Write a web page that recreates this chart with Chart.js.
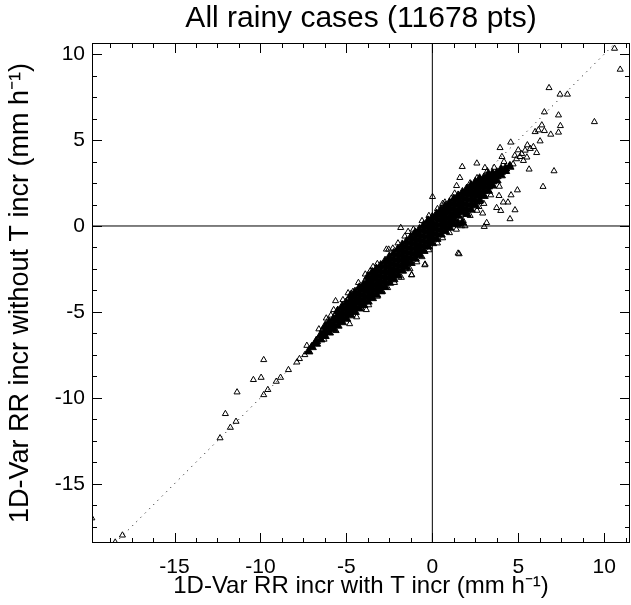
<!DOCTYPE html>
<html>
<head>
<meta charset="utf-8">
<script src="https://cdn.jsdelivr.net/npm/chart.js@4/dist/chart.umd.min.js"></script>
<style>
  html, body { margin: 0; padding: 0; background: #fff; }
  #wrap { width: 631px; height: 605px; }
</style>
</head>
<body>
<div id="wrap"><canvas id="chart" width="631" height="605"></canvas></div>
<script>
// axis limits and tick labels
const xRange = [-19.8, 11.5];
const yRange = [-18.45, 10.65];
const xTicks = [-15, -10, -5, 0, 5, 10];
const yTicks = [-15, -10, -5, 0, 5, 10];

const coreCols = [
  [-7.2, [-7.3]],
  [-7.0, [-7.05]],
  [-6.75, [-6.85, -6.7]],
  [-6.5, [-6.6, -6.35]],
  [-6.25, [-6.4, -6.1, -5.85]],
  [-6.0, [-6.2, -5.9, -5.6]],
  [-5.75, [-6.0, -5.7, -5.4]],
  [-5.5, [-5.8, -5.5, -5.2, -4.95]],
  [-5.25, [-5.6, -5.3, -5.0, -4.7]],
  [-5.0, [-5.4, -5.1, -4.8, -4.5]],
  [-4.75, [-5.2, -4.9, -4.6, -4.3, -4.05]],
  [-4.5, [-5.0, -4.7, -4.4, -4.1, -3.85]],
  [-4.25, [-4.8, -4.5, -4.2, -3.9, -3.6]],
  [-4.0, [-4.6, -4.3, -4.0, -3.7, -3.4]],
  [-3.75, [-4.4, -4.1, -3.8, -3.5, -3.2, -2.95]],
  [-3.5, [-4.2, -3.9, -3.6, -3.3, -3.0, -2.7]],
  [-3.25, [-4.0, -3.7, -3.4, -3.1, -2.8, -2.5]],
  [-3.0, [-3.8, -3.5, -3.2, -2.9, -2.6, -2.3]],
  [-2.75, [-3.55, -3.25, -2.95, -2.65, -2.35, -2.05]],
  [-2.5, [-3.3, -3.0, -2.7, -2.4, -2.1, -1.8]],
  [-2.25, [-3.1, -2.8, -2.5, -2.2, -1.9, -1.6]],
  [-2.0, [-2.85, -2.55, -2.25, -1.95, -1.65, -1.35]],
  [-1.75, [-2.6, -2.3, -2.0, -1.7, -1.4, -1.1]],
  [-1.5, [-2.4, -2.1, -1.8, -1.5, -1.2, -0.9]],
  [-1.25, [-2.15, -1.85, -1.55, -1.25, -0.95, -0.65]],
  [-1.0, [-1.9, -1.6, -1.3, -1.0, -0.7, -0.4]],
  [-0.75, [-1.7, -1.4, -1.1, -0.8, -0.5, -0.2]],
  [-0.5, [-1.45, -1.15, -0.85, -0.55, -0.25, 0.05]],
  [-0.25, [-1.2, -0.9, -0.6, -0.3, 0.0, 0.3]],
  [0.0, [-1.0, -0.7, -0.4, -0.1, 0.2, 0.5]],
  [0.25, [-0.75, -0.45, -0.15, 0.15, 0.45, 0.7]],
  [0.5, [-0.5, -0.2, 0.1, 0.4, 0.7, 0.95]],
  [0.75, [-0.3, 0.0, 0.3, 0.6, 0.9, 1.15]],
  [1.0, [-0.1, 0.2, 0.5, 0.8, 1.1, 1.35]],
  [1.25, [0.1, 0.4, 0.7, 1.0, 1.3, 1.55]],
  [1.5, [0.15, 0.6, 0.9, 1.2, 1.5, 1.75]],
  [1.75, [0.2, 0.8, 1.1, 1.4, 1.7, 1.95]],
  [2.0, [0.7, 1.0, 1.3, 1.6, 1.9, 2.15]],
  [2.25, [0.95, 1.25, 1.55, 1.85, 2.1, 2.35]],
  [2.5, [1.2, 1.5, 1.8, 2.05, 2.3, 2.55]],
  [2.75, [1.5, 1.8, 2.05, 2.3, 2.55, 2.75]],
  [3.0, [1.75, 2.05, 2.3, 2.55, 2.8]],
  [3.25, [2.05, 2.3, 2.55, 2.8, 3.0]],
  [3.5, [2.35, 2.6, 2.85, 3.05]],
  [3.75, [2.65, 2.9, 3.1]],
  [4.0, [2.95, 3.15, 3.3]],
  [4.25, [3.2, 3.35]],
  [4.5, [3.45]]
];

// single scattered triangles outside the core
const sparsePts = [
  [-19.81, -17.0], [-18.45, -18.41], [-18.03, -18.0], [-12.35, -12.34], [-12.04, -10.93],
  [-11.75, -11.73], [-11.42, -11.38], [-11.36, -9.67], [-10.41, -8.95], [-9.96, -8.82],
  [-9.81, -7.79], [-9.81, -9.83], [-9.57, -9.53], [-9.08, -9.05], [-8.83, -8.82],
  [-8.37, -8.37], [-7.88, -7.93], [-7.73, -7.73], [-7.42, -7.5], [-7.3, -6.96],
  [-7.04, -7.02], [-6.85, -6.82], [-6.4, -6.05], [-6.17, -5.37], [-6.08, -5.51],
  [-5.63, -4.36], [-5.74, -4.88], [-5.53, -4.92], [-5.2, -4.3], [-5.04, -4.4],
  [-4.62, -3.82], [-4.81, -5.7], [-4.13, -4.79], [-3.84, -4.88], [-3.84, -4.4],
  [-3.9, -2.81], [-3.45, -2.37], [-2.9, -3.82], [-2.67, -1.36], [-2.54, -1.36],
  [-1.95, -2.98], [-1.2, -2.85], [-0.42, -2.23], [-0.28, -1.1], [-1.84, -0.1],
  [-1.41, -0.33], [1.5, -1.59], [-1.55, -2.5], [-1.21, -2.85], [-0.44, -2.27],
  [10.6, 10.33], [10.93, 9.11], [6.79, 8.04], [7.43, 7.66], [7.86, 7.66],
  [6.52, 6.63], [7.34, 6.45], [7.45, 5.83], [9.43, 6.06], [6.37, 5.87],
  [6.17, 5.58], [5.98, 5.48], [6.52, 5.54], [6.89, 5.33], [7.34, 5.45],
  [6.27, 4.94], [4.56, 4.87], [3.94, 4.55], [5.53, 4.71], [5.88, 4.61],
  [6.07, 4.26], [5.0, 4.42], [5.1, 4.03], [5.63, 3.3], [7.08, 3.2],
  [6.44, 2.29], [4.05, 4.03], [4.17, 3.74], [4.52, 3.55], [2.59, 3.65],
  [3.06, 3.39], [1.74, 3.45], [1.6, 2.81], [1.41, 2.34], [0.01, 1.7],
  [0.73, 1.38], [3.88, 1.76], [4.58, 1.8], [4.95, 2.09], [4.13, 1.38],
  [4.4, 1.38], [3.74, 1.06], [3.98, 0.89], [4.81, 0.93], [4.52, 0.41],
  [2.77, 1.41], [2.71, 1.12], [2.93, 0.74], [3.16, 0.19], [3.02, -0.04],
  [1.9, 0.0], [1.56, -1.63], [1.5, 0.05], [1.7, 0.0],
  [4.9, 3.9], [5.2, 4.2], [5.4, 4.4], [5.7, 4.5], [5.5, 4.0], [5.3, 3.8], [4.7, 3.6], [4.8, 4.1],
  [-6.6, -6.0], [-5.9, -5.2], [-4.9, -3.9], [-4.3, -3.3], [-3.6, -2.6], [-3.2, -2.2],
  [-2.3, -1.3], [-2.0, -1.0], [-1.6, -0.6], [-1.1, -0.2], [-0.6, 0.3], [-0.2, 0.6],
  [0.3, 1.0], [0.6, 1.3], [1.1, 1.6], [1.3, 1.9], [2.2, 2.5], [2.6, 2.8], [3.2, 3.2], [3.6, 3.4],
  [-6.3, -6.6], [-5.6, -6.1], [-4.4, -5.3], [-3.7, -4.6], [-3.2, -4.1], [-2.6, -3.6],
  [-2.2, -3.3], [-1.8, -3.0], [-1.3, -2.5], [-0.9, -2.1], [-0.6, -1.8], [-0.2, -1.4],
  [0.3, -1.0], [0.6, -0.7], [1.0, -0.4], [1.4, -0.2], [1.8, 0.3], [2.2, 0.6],
  [2.6, 0.9], [3.0, 1.3], [3.4, 1.8], [3.9, 2.3]
];

const corePts = coreCols.flatMap(([x, ys]) => ys.map(y => ({ x, y })));
const scatPts = sparsePts.map(([x, y]) => ({ x, y }));

const FONT = 'Liberation Sans, Arial, Helvetica, sans-serif';

// IDL-style frame with inward major/minor ticks on all four sides
const framePlugin = {
  id: 'frame',
  afterDraw(chart) {
    const { ctx, chartArea: a, scales: { x, y } } = chart;
    ctx.save();
    ctx.strokeStyle = '#000';
    ctx.lineWidth = 1;
    ctx.strokeRect(a.left + 0.5, a.top + 0.5, a.right - a.left - 1, a.bottom - a.top - 1);
    ctx.beginPath();
    for (let v = -20; v <= 12; v += 1.25) {
      const len = (v % 5 === 0) ? 10 : 5;
      if (v > xRange[0] && v < xRange[1]) {
        const px = Math.round(x.getPixelForValue(v)) + 0.5;
        ctx.moveTo(px, a.bottom); ctx.lineTo(px, a.bottom - len);
        ctx.moveTo(px, a.top); ctx.lineTo(px, a.top + len);
      }
      if (v > yRange[0] && v < yRange[1]) {
        const py = Math.round(y.getPixelForValue(v)) + 0.5;
        ctx.moveTo(a.left, py); ctx.lineTo(a.left + len, py);
        ctx.moveTo(a.right, py); ctx.lineTo(a.right - len, py);
      }
    }
    ctx.stroke();
    ctx.restore();
  }
};

new Chart(document.getElementById('chart'), {
  type: 'scatter',
  data: {
    datasets: [
      {
        data: [{ x: 0, y: yRange[0] }, { x: 0, y: yRange[1] }],
        showLine: true, borderColor: '#000', borderWidth: 1, pointRadius: 0, order: 5
      },
      {
        data: [{ x: xRange[0], y: 0 }, { x: xRange[1], y: 0 }],
        showLine: true, borderColor: '#000', borderWidth: 1, pointRadius: 0, order: 5
      },
      {
        data: [{ x: yRange[0], y: yRange[0] }, { x: yRange[1], y: yRange[1] }],
        showLine: true, borderColor: '#000', borderWidth: 1, borderDash: [1, 5],
        pointRadius: 0, order: 4
      },
      {
        data: scatPts, pointStyle: 'triangle', pointRadius: 3.5, borderWidth: 1,
        borderColor: '#000', backgroundColor: 'rgba(0,0,0,0)', order: 2
      },
      {
        data: corePts, pointStyle: 'triangle', pointRadius: 5, borderWidth: 1,
        borderColor: '#000', backgroundColor: '#000', order: 1
      }
    ]
  },
  options: {
    responsive: false,
    animation: false,
    devicePixelRatio: 1,
    layout: { autoPadding: false, padding: { left: 0, right: 1, top: 0, bottom: 0 } },
    plugins: {
      legend: { display: false },
      tooltip: { enabled: false },
      title: {
        display: true,
        text: 'All rainy cases (11678 pts)',
        fullSize: false,
        color: '#000',
        font: { family: FONT, size: 30, weight: 'normal' },
        padding: { top: 1, bottom: 6 }
      }
    },
    scales: {
      x: {
        type: 'linear', position: 'bottom', min: xRange[0], max: xRange[1],
        afterBuildTicks: s => { s.ticks = xTicks.map(v => ({ value: v })); },
        afterFit: s => { s.height = 62; s.paddingLeft = 0; s.paddingRight = 0; },
        grid: { display: false, drawTicks: false },
        border: { display: false },
        ticks: { color: '#000', font: { family: FONT, size: 21 }, padding: 12, maxRotation: 0 },
        title: {
          display: true, text: '1D-Var RR incr with T incr (mm h⁻¹)', color: '#000',
          font: { family: FONT, size: 24 }, padding: { top: 0, bottom: 4 }
        }
      },
      y: {
        type: 'linear', position: 'left', min: yRange[0], max: yRange[1],
        afterBuildTicks: s => { s.ticks = yTicks.map(v => ({ value: v })); },
        afterFit: s => { s.width = 92; },
        grid: { display: false, drawTicks: false },
        border: { display: false },
        ticks: { color: '#000', font: { family: FONT, size: 21 }, padding: 7 },
        title: {
          display: true, text: '1D-Var RR incr without T incr (mm h⁻¹)', color: '#000',
          font: { family: FONT, size: 27 }, padding: { top: 4, bottom: 0 }
        }
      }
    }
  },
  plugins: [framePlugin]
});
</script>
</body>
</html>
